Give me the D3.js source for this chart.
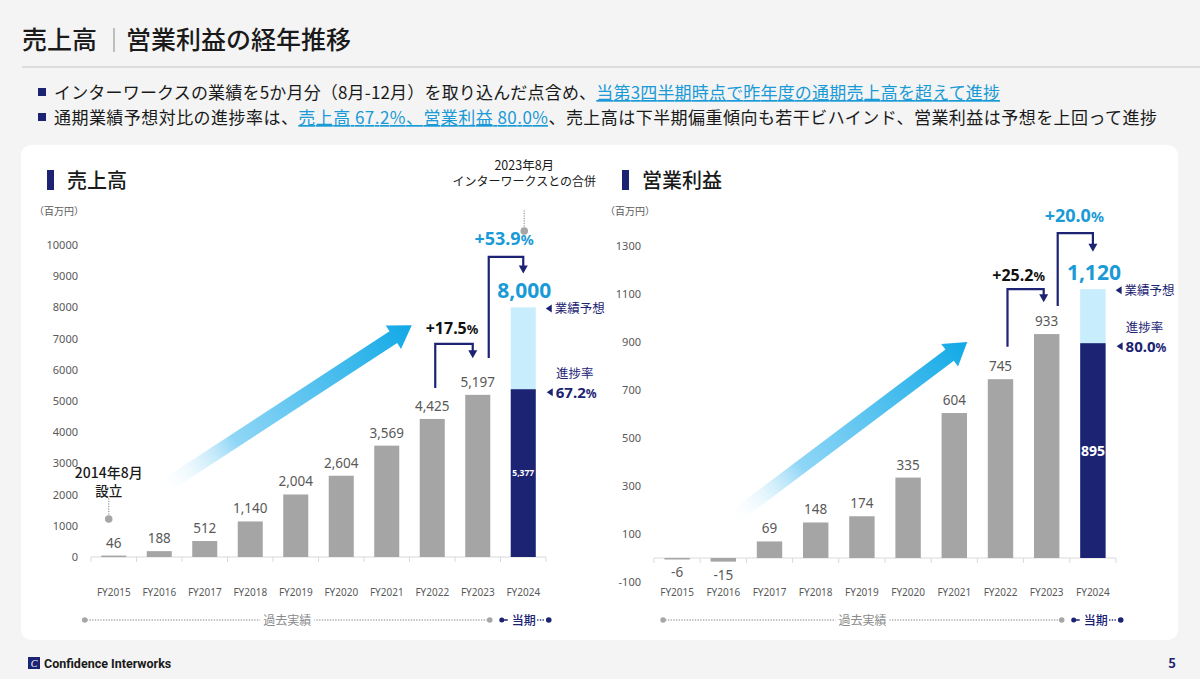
<!DOCTYPE html>
<html><head><meta charset="utf-8">
<script src="https://cdn.jsdelivr.net/npm/d3@7/dist/d3.min.js"></script>
<style>
body{margin:0;background:#f4f4f4;}
svg{display:block;font-family:"Noto Sans CJK JP","Noto Sans",sans-serif;}
</style></head>
<body><svg id="c" width="1200" height="679"></svg>
<script>
// ---------- data ----------
const categories = ["FY2015","FY2016","FY2017","FY2018","FY2019","FY2020","FY2021","FY2022","FY2023","FY2024"];
const salesValues = [46,188,512,1140,2004,2604,3569,4425,5197,5377];
const salesForecast = 8000;
const salesTicks = [0,1000,2000,3000,4000,5000,6000,7000,8000,9000,10000];
const opValues = [-6,-15,69,148,174,335,604,745,933,895];
const opForecast = 1120;
const opTicks = [-100,100,300,500,700,900,1100,1300];
const salesGrowth = [{from:"FY2022",to:"FY2023",label:"+17.5",color:"#111"},{from:"FY2023",to:"FY2024",label:"+53.9",color:"#1a9ad6"}];
const opGrowth = [{from:"FY2022",to:"FY2023",label:"+25.2",color:"#111"},{from:"FY2023",to:"FY2024",label:"+20.0",color:"#1a9ad6"}];
const salesProgressLabel = "67.2";
const opProgressLabel = "80.0";

const NAVY="#1c2373", GRAY="#a5a5a5", LIGHT="#c8edfc", CYAN="#1a9ad6", TXT="#595959";
const loc = d3.formatLocale({decimal:".",thousands:",",grouping:[3],currency:["",""],minus:"-"});
const svg = d3.select("#c");
const defs = svg.append("defs");

// ---------- page frame ----------
svg.append("rect").attr("width",1200).attr("height",679).attr("fill","#f4f4f4");
svg.append("text").attr("x",22).attr("y",49).attr("font-size",25).attr("font-weight",500).attr("fill","#1a1a1a").text("売上高");
svg.append("line").attr("x1",114).attr("x2",114).attr("y1",28).attr("y2",52).attr("stroke","#9a9a9a").attr("stroke-width",1.2);
svg.append("text").attr("x",126).attr("y",49).attr("font-size",25).attr("font-weight",500).attr("fill","#1a1a1a").text("営業利益の経年推移");
svg.append("line").attr("x1",22).attr("x2",1200).attr("y1",67).attr("y2",67).attr("stroke","#c4c4c4").attr("stroke-width",1.2);

function bullet(y, len, parts){
  svg.append("rect").attr("x",38).attr("y",y-5).attr("width",8).attr("height",8).attr("fill",NAVY);
  const t = svg.append("text").attr("x",54).attr("y",y+6).attr("font-size",17).attr("fill","#1a1a1a")
    .attr("textLength",len).attr("lengthAdjust","spacing");
  parts.forEach(p=>{
    const s=t.append("tspan").text(p.t);
    if(p.h){s.attr("fill",CYAN).attr("text-decoration","underline");}
  });
}
bullet(93,946,[{t:"インターワークスの業績を5か月分（8月-12月）を取り込んだ点含め、"},{t:"当第3四半期時点で昨年度の通期売上高を超えて進捗",h:1}]);
bullet(118,1103,[{t:"通期業績予想対比の進捗率は、"},{t:"売上高 67.2%、営業利益 80.0%",h:1},{t:"、売上高は下半期偏重傾向も若干ビハインド、営業利益は予想を上回って進捗"}]);

svg.append("rect").attr("x",21).attr("y",145).attr("width",1157).attr("height",495).attr("rx",10).attr("fill","#fff");

// footer
svg.append("rect").attr("x",28).attr("y",657).attr("width",12).attr("height",12).attr("fill",NAVY);
svg.append("text").attr("x",34).attr("y",667).attr("font-size",10).attr("font-style","italic").attr("fill","#fff").attr("text-anchor","middle").attr("font-family","Liberation Serif").text("C");
svg.append("text").attr("x",44).attr("y",667.5).attr("font-size",12.5).attr("font-weight",700).attr("fill","#1a1a1a").attr("font-family","Roboto, 'Liberation Sans'").text("Confidence Interworks");
svg.append("text").attr("x",1172).attr("y",668).attr("font-size",13).attr("font-weight",700).attr("fill",NAVY).attr("text-anchor","middle").text("5");

// ---------- chart drawer ----------
function drawChart(cfg){
  const g = svg.append("g");
  const x = d3.scaleBand().domain(categories).range(cfg.xr).paddingInner(0.45).paddingOuter(0.225);
  const y = d3.scaleLinear().domain(cfg.yd).range(cfg.yr);
  const bw = x.bandwidth();
  const cx = c => x(c)+bw/2;
  const px = i => x(categories[0])+bw/2 + i*x.step();
  const y0 = y(0);
  const last = categories[categories.length-1];

  // heading
  g.append("rect").attr("x",cfg.hx).attr("y",170).attr("width",7).attr("height",20).attr("fill",NAVY);
  g.append("text").attr("x",cfg.hx+20).attr("y",188).attr("font-size",20).attr("font-weight",500).attr("fill","#1a1a1a").text(cfg.heading);
  g.append("text").attr("x",cfg.ux).attr("y",215).attr("font-size",10).attr("fill",TXT).text("（百万円）");

  // y ticks
  const ya = d3.axisLeft(y).tickValues(cfg.ticks).tickSize(0).tickPadding(0).tickFormat(loc.format("d"));
  const yg = g.append("g").attr("transform",`translate(${cfg.tickX},0)`).call(ya);
  yg.select(".domain").remove();
  yg.selectAll("text").attr("font-size",11).attr("fill",TXT).attr("font-family","'Noto Sans','Noto Sans CJK JP',sans-serif");

  // growth gradient arrow (behind bars)
  const a = cfg.arrow;
  const sx=px(a.i0), sy=y(a.v0), ex=px(a.i1), ey=y(a.v1);
  const gid = "grad"+cfg.id;
  const lg = defs.append("linearGradient").attr("id",gid).attr("gradientUnits","userSpaceOnUse")
     .attr("x1",sx).attr("y1",sy).attr("x2",ex).attr("y2",ey);
  lg.append("stop").attr("offset","0").attr("stop-color","#ffffff").attr("stop-opacity",0);
  lg.append("stop").attr("offset","0.3").attr("stop-color","#8fd6f6");
  lg.append("stop").attr("offset","1").attr("stop-color","#11a9e6");
  const Ln=Math.hypot(ex-sx,ey-sy), ux=(ex-sx)/Ln, uy=(ey-sy)/Ln, nx=-uy, ny=ux;
  const hw=7, ahw=14, al=22;
  const bx=ex-ux*al, by=ey-uy*al;
  const pts=[[sx+nx*hw,sy+ny*hw],[bx+nx*hw,by+ny*hw],[bx+nx*ahw,by+ny*ahw],[ex,ey],[bx-nx*ahw,by-ny*ahw],[bx-nx*hw,by-ny*hw],[sx-nx*hw,sy-ny*hw]];
  g.append("polygon").attr("points",pts.map(p=>p.join(",")).join(" ")).attr("fill",`url(#${gid})`);

  // x axis baseline + ticks
  const xr = x.range();
  g.append("line").attr("x1",xr[0]).attr("x2",xr[1]).attr("y1",y0).attr("y2",y0).attr("stroke","#d9d9d9").attr("stroke-width",1);
  d3.range(categories.length+1).forEach(k=>{
    const tx = xr[0]+k*x.step();
    g.append("line").attr("x1",tx).attr("x2",tx).attr("y1",y0).attr("y2",y0+5).attr("stroke","#d9d9d9");
  });

  // bars
  const hist = cfg.values.slice(0,-1);
  g.selectAll(".bar").data(hist).join("rect")
    .attr("x",(d,i)=>x(categories[i])).attr("width",bw)
    .attr("y",d=>Math.min(y(d),y0)).attr("height",d=>Math.max(1.5,Math.abs(y(d)-y0)))
    .attr("fill",GRAY);
  g.append("rect").attr("x",x(last)).attr("width",bw).attr("y",y(cfg.forecast)).attr("height",y0-y(cfg.forecast)).attr("fill",LIGHT);
  const cur = cfg.values[cfg.values.length-1];
  g.append("rect").attr("x",x(last)).attr("width",bw).attr("y",y(cur)).attr("height",y0-y(cur)).attr("fill",NAVY);

  // value labels
  const fmt = loc.format(",");
  g.selectAll(".vl").data(hist).join("text")
    .attr("x",(d,i)=>cx(categories[i])).attr("y",d=> d>=0 ? y(d)-8 : y(d)+cfg.negOff)
    .attr("text-anchor","middle").attr("font-size",13.5).attr("fill",TXT)
    .attr("font-family","'Noto Sans','Noto Sans CJK JP',sans-serif").text(d=>fmt(d));
  g.append("text").attr("x",cx(last)).attr("y",(y(cur)+y0)/2+cfg.curFs*0.35).attr("text-anchor","middle")
    .attr("font-size",cfg.curFs).attr("font-weight",700).attr("fill","#fff").attr("font-family","'Noto Sans',sans-serif").text(fmt(cur));
  g.append("text").attr("x",cx(last)+1).attr("y",y(cfg.forecast)-9).attr("text-anchor","middle")
    .attr("font-size",21).attr("font-weight",700).attr("fill",CYAN).attr("font-family","'Noto Sans',sans-serif").text(fmt(cfg.forecast));

  // category labels
  g.selectAll(".cl").data(categories).join("text")
    .attr("x",d=>cx(d)).attr("y",596).attr("text-anchor","middle").attr("font-size",10).attr("fill",TXT)
    .attr("font-family","'Noto Sans',sans-serif").text(d=>d);

  // side notes
  const rx = x(last)+bw;
  const tri=(tx,ty)=>g.append("path").attr("d",`M${tx},${ty} l6,-4 v8 z`).attr("fill",NAVY);
  tri(rx+10, y(cfg.forecast)+1);
  g.append("text").attr("x",rx+19).attr("y",y(cfg.forecast)+5.5).attr("font-size",12.5).attr("fill",NAVY).text("業績予想");
  g.append("text").attr("x",rx+cfg.noteC).attr("y",y(cur)-11).attr("text-anchor","middle").attr("font-size",12.5).attr("fill",NAVY).text("進捗率");
  tri(rx+11, y(cur)+3);
  const pt = g.append("text").attr("x",rx+20).attr("y",y(cur)+8.5).attr("fill",NAVY).attr("font-weight",700).attr("font-family","'Noto Sans',sans-serif");
  pt.append("tspan").attr("font-size",15).text(cfg.progress);
  pt.append("tspan").attr("font-size",12).text("%");

  // growth step arrows
  cfg.growth.forEach((gr,k)=>{
    const s = cfg.steps[k];
    const x1 = cx(gr.from)+s.dx1, x2 = cx(gr.to)+s.dx2;
    const yb=y(s.vb), yt=y(s.vt), ye=y(s.ve);
    g.append("path").attr("d",`M${x1},${yb} V${yt} H${x2} V${ye-6}`).attr("fill","none").attr("stroke",NAVY).attr("stroke-width",2.2);
    g.append("path").attr("d",`M${x2-4.5},${ye-7} h9 l-4.5,8 z`).attr("fill",NAVY);
    const t = g.append("text").attr("x",(x1+x2)/2+s.lx).attr("y",yt-s.ly).attr("text-anchor","middle")
      .attr("fill",gr.color).attr("font-weight",700).attr("font-family","'Noto Sans',sans-serif");
    t.append("tspan").attr("font-size",s.fs).text(gr.label);
    t.append("tspan").attr("font-size",s.fs*0.8).text("%");
  });

  // bottom period legend
  const by0 = 620;
  const lx0 = cx(categories[0])+cfg.leg[0], lx1 = cx(categories[categories.length-2])+cfg.leg[1];
  g.append("line").attr("x1",lx0).attr("x2",lx1).attr("y1",by0).attr("y2",by0).attr("stroke","#a6a6a6").attr("stroke-width",1.6).attr("stroke-dasharray","0.1,2.6").attr("stroke-linecap","round");
  g.append("circle").attr("cx",lx0).attr("cy",by0).attr("r",2.8).attr("fill","#a6a6a6");
  g.append("circle").attr("cx",lx1).attr("cy",by0).attr("r",2.8).attr("fill","#a6a6a6");
  const mid=(lx0+lx1)/2;
  g.append("rect").attr("x",mid-27).attr("y",by0-8).attr("width",54).attr("height",16).attr("fill","#fff");
  g.append("text").attr("x",mid).attr("y",by0+4.5).attr("text-anchor","middle").attr("font-size",12).attr("fill","#8a8a8a").text("過去実績");
  const c0 = lx1+12;
  g.append("circle").attr("cx",c0).attr("cy",by0).attr("r",2.5).attr("fill",NAVY);
  g.append("line").attr("x1",c0).attr("x2",c0+6).attr("y1",by0).attr("y2",by0).attr("stroke",NAVY).attr("stroke-width",1.5);
  g.append("text").attr("x",c0+10).attr("y",by0+4.5).attr("font-size",12).attr("font-weight",500).attr("fill",NAVY).text("当期");
  g.append("line").attr("x1",c0+36).attr("x2",c0+44).attr("y1",by0).attr("y2",by0).attr("stroke",NAVY).attr("stroke-width",1.6).attr("stroke-dasharray","0.1,2.6").attr("stroke-linecap","round");
  g.append("circle").attr("cx",c0+47).attr("cy",by0).attr("r",2.8).attr("fill",NAVY);

  return {g,x,y,cx};
}

const L = drawChart({id:"s",heading:"売上高",hx:47,ux:34,xr:[91,546],yd:[0,10000],yr:[557,245],ticks:salesTicks,tickX:78,
  values:salesValues,forecast:salesForecast,progress:salesProgressLabel,curFs:8.5,negOff:15,noteC:39,
  arrow:{i0:1.0,v0:2150,i1:6.55,v1:7430},
  growth:salesGrowth,
  steps:[{dx1:3,dx2:-5,vb:5420,vt:6830,ve:6400,lx:-2,ly:10,fs:16},{dx1:11,dx2:0,vb:6380,vt:9620,ve:9120,lx:-2,ly:12,fs:18}],
  leg:[-29,12]});
const R = drawChart({id:"o",heading:"営業利益",hx:622,ux:605,xr:[654,1116],yd:[-100,1300],yr:[582,246],ticks:opTicks,tickX:641,
  values:opValues,forecast:opForecast,progress:opProgressLabel,curFs:14,negOff:18,noteC:39,
  arrow:{i0:1.15,v0:158,i1:6.28,v1:900},
  growth:opGrowth,
  steps:[{dx1:7,dx2:-3,vb:880,vt:1120,ve:1070,lx:-7,ly:8,fs:16},{dx1:11,dx2:0,vb:1050,vt:1354,ve:1280,lx:-1,ly:11,fs:18}],
  leg:[-14,15]});

// event annotations
function event(gx, gy, lines, bold){
  const g = svg.append("g");
  g.append("line").attr("x1",gx).attr("x2",gx).attr("y1",gy-20).attr("y2",gy-3).attr("stroke","#a6a6a6").attr("stroke-width",1.6).attr("stroke-dasharray","0.1,2.4").attr("stroke-linecap","round");
  g.append("circle").attr("cx",gx).attr("cy",gy).attr("r",3.8).attr("fill","#a6a6a6");
  lines.forEach((l,i)=>g.append("text").attr("x",gx).attr("y",l.y).attr("text-anchor","middle").attr("font-size",l.fs).attr("font-weight",bold?500:400).attr("fill","#1a1a1a").text(l.t));
}
event(L.cx("FY2015")-5, L.y(1220), [{t:"2014年8月",y:478,fs:14},{t:"設立",y:496,fs:13.5}], true);
event(L.cx("FY2024")+1, L.y(10450), [{t:"2023年8月",y:170,fs:12.5},{t:"インターワークスとの合併",y:186,fs:12}], false);
</script></body></html>
